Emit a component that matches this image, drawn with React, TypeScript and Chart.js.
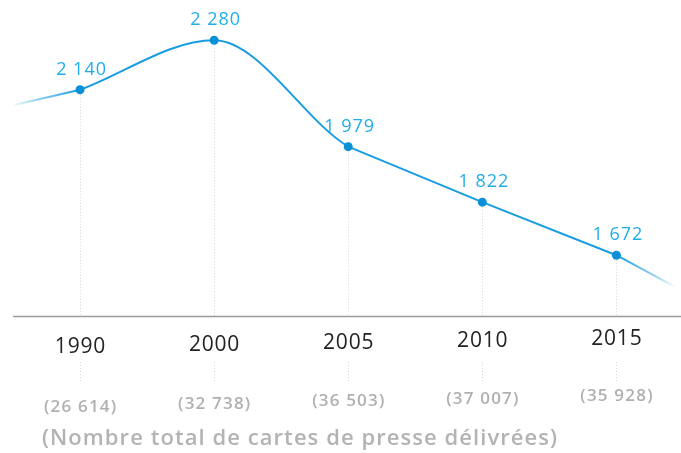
import React, { useEffect, useRef } from "react";
import { Chart, registerables } from "chart.js";

Chart.register(...registerables);

const years = ["1990", "2000", "2005", "2010", "2015"];
const journalists = [2140, 2280, 1979, 1822, 1672];
const pressCards = [26614, 32738, 36503, 37007, 35928];
const leadIn = [2096];
const leadOut = [1580];
const axisTitle = "(Nombre total de cartes de presse délivrées)";

const LINE = "#1a9de0";
const POINT = "#0b8fd6";
const VALUE = "#21aee8";
const X_MAX = 4.448;
const CURVE_END = 2; // index where the curved part joins the straight part

const fmt = (n: number) => n.toString().replace(/\B(?=(\d{3})+(?!\d))/g, " ");

function spaced(ctx: any, text: string, x: number, y: number, spacing: number, align: string) {
  ctx.letterSpacing = spacing + "px";
  const w = ctx.measureText(text).width;
  ctx.textAlign = "left";
  const sx = align === "center" ? x - (w - spacing) / 2 : x;
  ctx.fillText(text, sx, y);
  ctx.letterSpacing = "0px";
}

export default function App() {
  const ref = useRef<HTMLCanvasElement | null>(null);

  useEffect(() => {
    if (!ref.current) return;
    const lastIdx = years.length - 1;
    const pts = journalists.map((v, i) => ({ x: i, y: v }));
    const fade = (fromX: number, toX: number, fadeIn: boolean) => (c: any) => {
      const chart = c.chart;
      const ca = chart.chartArea;
      if (!ca) return LINE;
      const xs = chart.scales.x;
      const g = chart.ctx.createLinearGradient(xs.getPixelForValue(fromX), 0, xs.getPixelForValue(toX), 0);
      g.addColorStop(0, fadeIn ? "rgba(26,157,224,0.05)" : "rgba(26,157,224,1)");
      g.addColorStop(fadeIn ? 0.35 : 0.65, "rgba(26,157,224,0.45)");
      g.addColorStop(1, fadeIn ? "rgba(26,157,224,1)" : "rgba(26,157,224,0.0)");
      return g;
    };

    const decor = {
      id: "decor",
      beforeDatasetsDraw(chart: any) {
        const { ctx, chartArea } = chart;
        const xs = chart.scales.x;
        const ys = chart.scales.y;
        const axisY = chartArea.bottom;
        ctx.save();
        ctx.strokeStyle = "#d6d6d6";
        ctx.lineWidth = 1;
        ctx.setLineDash([1, 2]);
        journalists.forEach((v, i) => {
          const x = Math.round(xs.getPixelForValue(i)) + 0.5;
          const y = ys.getPixelForValue(v);
          ctx.beginPath();
          ctx.moveTo(x, y + 5);
          ctx.lineTo(x, axisY);
          ctx.moveTo(x, axisY + 46);
          ctx.lineTo(x, axisY + 65);
          ctx.stroke();
        });
        ctx.setLineDash([]);
        ctx.strokeStyle = "#9a9a9a";
        ctx.lineWidth = 1.5;
        ctx.beginPath();
        ctx.moveTo(chartArea.left, axisY + 0.5);
        ctx.lineTo(chart.width, axisY + 0.5);
        ctx.stroke();
        ctx.restore();
      },
      afterDatasetsDraw(chart: any) {
        const { ctx, chartArea } = chart;
        const xs = chart.scales.x;
        const ys = chart.scales.y;
        const axisY = chartArea.bottom;
        ctx.save();
        ctx.textBaseline = "middle";
        journalists.forEach((v, i) => {
          const x = xs.getPixelForValue(i);
          const y = ys.getPixelForValue(v);
          ctx.fillStyle = VALUE;
          ctx.font = '18px "Open Sans"';
          spaced(ctx, fmt(v), x + 1, y - 20, 1, "center");
          ctx.fillStyle = "#222222";
          ctx.font = '21px "Open Sans"';
          spaced(ctx, years[i], x, axisY + 31 - 2 * i, 0.8, "center");
          ctx.fillStyle = "#b0b0b0";
          ctx.font = '600 17px "Open Sans"';
          spaced(ctx, "(" + fmt(pressCards[i]) + ")", x, axisY + 91 - 2.7 * i, 1.2, "center");
        });
        ctx.fillStyle = "#b3b3b3";
        ctx.font = '600 22px "Open Sans"';
        const w0 = ctx.measureText(axisTitle).width;
        const sp = Math.max(0, (515 - w0) / (axisTitle.length - 1));
        spaced(ctx, axisTitle, 42, axisY + 123, sp, "left");
        ctx.restore();
      },
    };

    const chart = new Chart(ref.current, {
      type: "line",
      data: {
        datasets: [
          {
            // curved part (the segment past CURVE_END is hidden, it only shapes the tangent)
            data: pts.slice(0, CURVE_END + 2),
            borderColor: LINE,
            borderWidth: 2,
            pointRadius: 0,
            cubicInterpolationMode: "monotone",
            segment: {
              borderColor: (c: any) => (c.p0DataIndex >= CURVE_END ? "rgba(0,0,0,0)" : LINE),
            },
            clip: false,
            order: 1,
          },
          {
            // straight part + points
            data: pts,
            borderColor: LINE,
            borderWidth: 2,
            pointRadius: 4.5,
            pointBackgroundColor: POINT,
            pointBorderWidth: 0,
            tension: 0,
            segment: {
              borderColor: (c: any) => (c.p0DataIndex < CURVE_END ? "rgba(0,0,0,0)" : LINE),
            },
            clip: false,
            order: 0,
          },
          {
            data: [{ x: -0.5, y: leadIn[0] }, pts[0]],
            borderColor: fade(-0.5, 0, true),
            borderWidth: 2,
            pointRadius: 0,
            clip: false,
            order: 2,
          },
          {
            data: [pts[lastIdx], { x: X_MAX, y: leadOut[0] }],
            borderColor: fade(lastIdx, X_MAX, false),
            borderWidth: 2,
            pointRadius: 0,
            clip: false,
            order: 2,
          },
        ],
      } as any,
      options: {
        animation: false,
        responsive: false,
        layout: { padding: { left: 13, right: 0, top: 12, bottom: 137 } },
        scales: {
          x: { type: "linear", min: -0.5, max: X_MAX, display: false },
          y: { min: 1500, max: 2360, display: false },
        },
        plugins: { legend: { display: false }, tooltip: { enabled: false } },
        events: [],
      } as any,
      plugins: [decor],
    });
    return () => chart.destroy();
  }, []);

  return (
    <div style={{ position: "absolute", left: 0, top: 0, width: 681, height: 453, background: "#fff" }}>
      <canvas ref={ref} width={681} height={453} style={{ display: "block" }} />
    </div>
  );
}
